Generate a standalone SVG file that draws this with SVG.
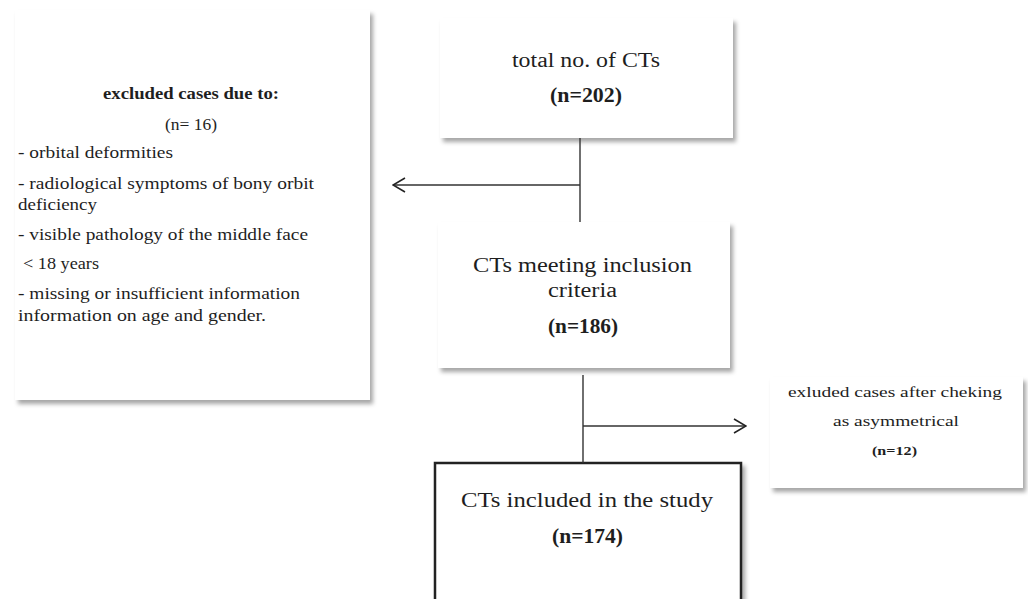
<svg xmlns="http://www.w3.org/2000/svg" width="1028" height="599" viewBox="0 0 1028 599">
<defs>
<filter id="sh" x="-10%" y="-10%" width="125%" height="125%">
<feDropShadow dx="3" dy="4" stdDeviation="2.2" flood-color="#000" flood-opacity="0.35"/>
</filter>
<marker id="ah" viewBox="0 0 14 16" refX="13" refY="8" markerWidth="14" markerHeight="16" markerUnits="userSpaceOnUse" orient="auto">
<path d="M1,1 L13,8 L1,15" fill="none" stroke="#222" stroke-width="1.6"/>
</marker>
</defs>
<style>
.box{fill:#fff;filter:url(#sh)}
.t{font-family:"Liberation Serif","DejaVu Serif",serif;fill:#1e1e1e}
.m{font-size:20px}
.l{font-size:16px}
.r{font-size:15px}
.b{font-weight:bold}
.ln{stroke:#333;stroke-width:1.4;fill:none}
</style>
<rect width="1028" height="599" fill="#fff"/>
<g id="excluded">
<rect class="box" x="15" y="10" width="355" height="390"/>
<text class="t l b" x="103" y="99" textLength="176" lengthAdjust="spacingAndGlyphs">excluded cases due to:</text>
<text class="t l" x="165" y="130" textLength="52" lengthAdjust="spacingAndGlyphs">(n= 16)</text>
<text class="t l" x="18" y="158" textLength="155" lengthAdjust="spacingAndGlyphs">- orbital deformities</text>
<text class="t l" x="18" y="189" textLength="296" lengthAdjust="spacingAndGlyphs">- radiological symptoms of bony orbit</text>
<text class="t l" x="18" y="210" textLength="79" lengthAdjust="spacingAndGlyphs">deficiency</text>
<text class="t l" x="18" y="240" textLength="290" lengthAdjust="spacingAndGlyphs">- visible pathology of the middle face</text>
<text class="t l" x="23" y="269" textLength="76" lengthAdjust="spacingAndGlyphs">&lt; 18 years</text>
<text class="t l" x="18" y="299" textLength="282" lengthAdjust="spacingAndGlyphs">- missing or insufficient information</text>
<text class="t l" x="18" y="321" textLength="248" lengthAdjust="spacingAndGlyphs">information on age and gender.</text>
</g>
<g id="total">
<rect class="box" x="440" y="18" width="293" height="120"/>
<text class="t m" x="512" y="67" textLength="148" lengthAdjust="spacingAndGlyphs">total no. of CTs</text>
<text class="t m b" x="550" y="102" textLength="72" lengthAdjust="spacingAndGlyphs">(n=202)</text>
</g>
<g id="meeting">
<rect class="box" x="438" y="222" width="292" height="146"/>
<text class="t m" x="473" y="272" textLength="219" lengthAdjust="spacingAndGlyphs">CTs meeting inclusion</text>
<text class="t m" x="548" y="297" textLength="69" lengthAdjust="spacingAndGlyphs">criteria</text>
<text class="t m b" x="548" y="333" textLength="70" lengthAdjust="spacingAndGlyphs">(n=186)</text>
</g>
<g id="asym">
<rect class="box" x="770" y="377" width="253" height="111"/>
<text class="t r" x="788" y="397" textLength="214" lengthAdjust="spacingAndGlyphs">exluded cases after cheking</text>
<text class="t r" x="833" y="426" textLength="126" lengthAdjust="spacingAndGlyphs">as asymmetrical</text>
<text class="t b" style="font-size:13px" x="872" y="455" textLength="45" lengthAdjust="spacingAndGlyphs">(n=12)</text>
</g>
<g id="included">
<rect class="box" x="435" y="463" width="306" height="150" stroke="#222" stroke-width="2.5"/>
<text class="t m" x="461" y="507" textLength="252" lengthAdjust="spacingAndGlyphs">CTs included in the study</text>
<text class="t m b" x="552" y="543" textLength="71" lengthAdjust="spacingAndGlyphs">(n=174)</text>
</g>
<g id="connectors">
<line class="ln" x1="580" y1="138" x2="580" y2="222"/>
<line class="ln" x1="580" y1="185" x2="393" y2="185" marker-end="url(#ah)"/>
<line class="ln" x1="583" y1="375" x2="583" y2="463"/>
<line class="ln" x1="583" y1="426" x2="746" y2="426" marker-end="url(#ah)"/>
</g>
</svg>
